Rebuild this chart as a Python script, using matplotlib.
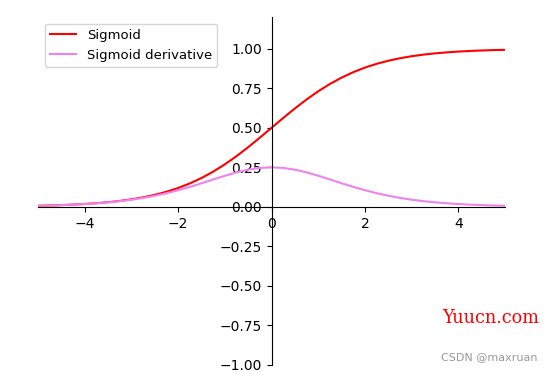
import matplotlib
matplotlib.use("Agg")
import matplotlib.pyplot as plt

# sample points
x_vals = [-5.0, -4.75, -4.5, -4.25, -4.0, -3.75, -3.5, -3.25, -3.0, -2.75, -2.5,
          -2.25, -2.0, -1.75, -1.5, -1.25, -1.0, -0.75, -0.5, -0.25, 0.0,
          0.25, 0.5, 0.75, 1.0, 1.25, 1.5, 1.75, 2.0, 2.25, 2.5,
          2.75, 3.0, 3.25, 3.5, 3.75, 4.0, 4.25, 4.5, 4.75, 5.0]
sigmoid = [0.0067, 0.0086, 0.0110, 0.0141, 0.0180, 0.0230, 0.0293, 0.0373, 0.0474, 0.0601, 0.0759,
           0.0954, 0.1192, 0.1481, 0.1824, 0.2227, 0.2689, 0.3208, 0.3775, 0.4378, 0.5000,
           0.5622, 0.6225, 0.6792, 0.7311, 0.7773, 0.8176, 0.8519, 0.8808, 0.9046, 0.9241,
           0.9399, 0.9526, 0.9627, 0.9707, 0.9770, 0.9820, 0.9859, 0.9890, 0.9914, 0.9933]
derivative = [0.0066, 0.0085, 0.0109, 0.0139, 0.0177, 0.0225, 0.0285, 0.0359, 0.0452, 0.0565, 0.0701,
              0.0863, 0.1050, 0.1261, 0.1491, 0.1731, 0.1966, 0.2179, 0.2350, 0.2461, 0.2500,
              0.2461, 0.2350, 0.2179, 0.1966, 0.1731, 0.1491, 0.1261, 0.1050, 0.0863, 0.0701,
              0.0565, 0.0452, 0.0359, 0.0285, 0.0225, 0.0177, 0.0139, 0.0109, 0.0085, 0.0066]

fig = plt.figure(figsize=(5.52, 3.72), dpi=100)
ax = fig.add_axes([0.069, 0.019, 0.846, 0.935])
ax.plot(x_vals, sigmoid, color="red", label="Sigmoid")
ax.plot(x_vals, derivative, color="violet", label="Sigmoid derivative")

ax.set_xlim(-5, 5)
ax.set_ylim(-1, 1.2)
ax.set_yticks([-1.0, -0.75, -0.5, -0.25, 0.0, 0.25, 0.5, 0.75, 1.0])
ax.spines["top"].set_visible(False)
ax.spines["right"].set_visible(False)
ax.spines["left"].set_position(("data", 0))
ax.spines["bottom"].set_position(("data", 0))
ax.legend(loc="upper left", bbox_to_anchor=(0.0, 1.0), fontsize=9.5)

fig.text(0.889, 0.145, "Yuucn.com", color="red", fontsize=12.8,
         family="DejaVu Serif", ha="center", va="center")
fig.text(0.886, 0.04, "CSDN @maxruan", color="#999999", fontsize=8,
         ha="center", va="center")

fig.savefig("out.png", dpi=100)
